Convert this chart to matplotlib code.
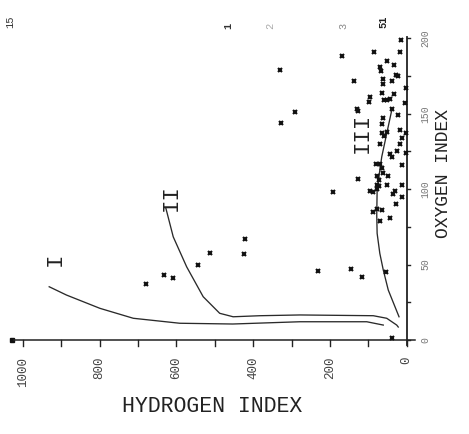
import matplotlib
matplotlib.use("Agg")
import matplotlib.pyplot as plt

# Kerogen type evolution paths (hydrogen index, oxygen index)
type1_hi = [931, 886, 799, 712, 591, 453, 278, 104, 61]
type1_oi = [35.3, 29.8, 21.0, 14.4, 11.1, 10.6, 12.1, 12.1, 9.9]

type2_hi = [627, 608, 573, 530, 487, 452, 382, 278, 87, 52, 26, 22]
type2_oi = [87.2, 68.4, 48.5, 28.7, 17.7, 15.4, 16.1, 16.6, 16.1, 14.4, 9.9, 8.6]

type3_hi = [39, 52, 65, 70, 77, 78, 77, 70, 61, 48, 20]
type3_oi = [152.3, 136.9, 121.4, 112.6, 99.3, 82.8, 70.7, 57.4, 46.4, 33.1, 15.4]

# Sample measurements
sample_hi = [680, 631, 608, 544, 511, 425, 421, 330, 292, 328, 191, 230, 146, 117,
             54, 169, 85, 17, 137, 38,
             15, 51, 32, 70, 67, 22, 28, 63, 38, 61, 65, 32, 58, 52, 44, 96, 97, 4,
             39, 130, 128, 22, 62, 65, 17, 52, 13, 65, 58, 70, 17, 43, 39, 26, 13,
             80, 70, 65, 61, 48, 78, 126, 73, 78, 52, 96, 87, 78, 73, 13, 30, 35,
             13, 28, 78, 87, 65, 70, 44, 2, 2, 2]
sample_oi = [37, 43, 41, 50, 58, 57, 67, 179, 151, 144, 98, 46, 47, 42,
             45, 188, 191, 191, 172, 1.5,
             199, 185, 182, 181, 178, 175, 176, 173, 172, 170, 164, 163, 159, 159,
             160, 161, 158, 157, 153, 153, 152, 149, 147, 143, 139, 138, 134, 137,
             135, 130, 130, 123, 121, 125, 116, 117, 117, 114, 111, 109, 109, 107,
             106, 103, 103, 99, 98, 100, 102, 103, 99, 97, 95, 90, 87, 85, 86, 79,
             81, 167, 137, 124]

hi_ticks = [1000, 900, 800, 700, 600, 500, 400, 300, 200, 100, 0]
hi_labels = ["1000", "800", "600", "400", "200", "0"]
oi_ticks = [0, 25, 50, 75, 100, 125, 150, 175, 200]
oi_labels = ["0", "50", "100", "150", "200"]

W, H = 469, 434
fig = plt.figure(figsize=(W / 100, H / 100), dpi=100)
fig.patch.set_facecolor("white")

ax = fig.add_axes([22.7 / W, 94 / H, 384 / W, 301.7 / H])
ax.set_xlim(1000, 0)
ax.set_ylim(0, 200)
ax.set_xticks([])
ax.set_yticks([])
ax.patch.set_alpha(0)
for s in ax.spines.values():
    s.set_visible(False)

ink = "#222222"
mono = ["Liberation Mono", "DejaVu Sans Mono"]

# Axis lines (bottom and right)
ax.plot([1022, -22], [0, 0], color=ink, lw=1.1, clip_on=False, zorder=3)
ax.plot([0, 0], [-3, 201], color=ink, lw=1.3, clip_on=False, zorder=3)

# Bottom ticks
for t in hi_ticks:
    ax.plot([t, t], [0, -4.2], color=ink, lw=1.0, clip_on=False)
for t, lab in zip(hi_ticks[::2], hi_labels):
    ax.text(t, -11, lab, rotation=90, ha="center", va="top", fontsize=9,
            family=mono, color="#444444", clip_on=False)

# Right ticks
for t in oi_ticks:
    ax.plot([0, -9], [t, t], color=ink, lw=1.0, clip_on=False)
for t, lab in zip(oi_ticks[::2], oi_labels):
    ax.text(-48, t, lab, rotation=90, ha="center", va="center", fontsize=7,
            family=mono, color="#777777", clip_on=False)

# Evolution paths
for hx, oy in [(type1_hi, type1_oi), (type2_hi, type2_oi), (type3_hi, type3_oi)]:
    ax.plot(hx, oy, color="#2a2a2a", lw=0.95, zorder=2)

# Samples
ax.plot(sample_hi, sample_oi, ls="none", marker="x", ms=3.0, mew=1.5,
        color="#111111", clip_on=False, zorder=4)
ax.plot([1027], [0], ls="none", marker="s", ms=3, color="#111111", clip_on=False)

# Kerogen type labels
ax.text(915, 53.6, "I", rotation=90, ha="center", va="center", fontsize=16,
        family=mono, color=ink)
ax.text(613, 94.5, "II", rotation=90, ha="center", va="center", fontsize=16,
        family=mono, color=ink)
ax.text(117, 137, "III", rotation=90, ha="center", va="center", fontsize=16,
        family=mono, color=ink)

# Axis titles
fig.text(212 / W, 1 - 406 / H, "HYDROGEN INDEX", ha="center", va="center",
         fontsize=15.5, family=mono, color=ink)
fig.text(443 / W, 1 - 173 / H, "OXYGEN INDEX", ha="center", va="center",
         rotation=90, fontsize=13, family=mono, color=ink)

# Small sheet markers along the top
for x, y, s, w, c in [(10, 22, "15", "normal", "#333333"), (228, 26, "1", "bold", "#333333"),
                      (270, 26, "2", "normal", "#aaaaaa"), (343, 26, "3", "normal", "#888888"),
                      (383, 22, "51", "bold", "#222222")]:
    fig.text(x / W, 1 - y / H, s, rotation=90, ha="center", va="center",
             fontsize=7.5, family=mono, fontweight=w, color=c)

fig.savefig("out.png", dpi=100, facecolor="white")
